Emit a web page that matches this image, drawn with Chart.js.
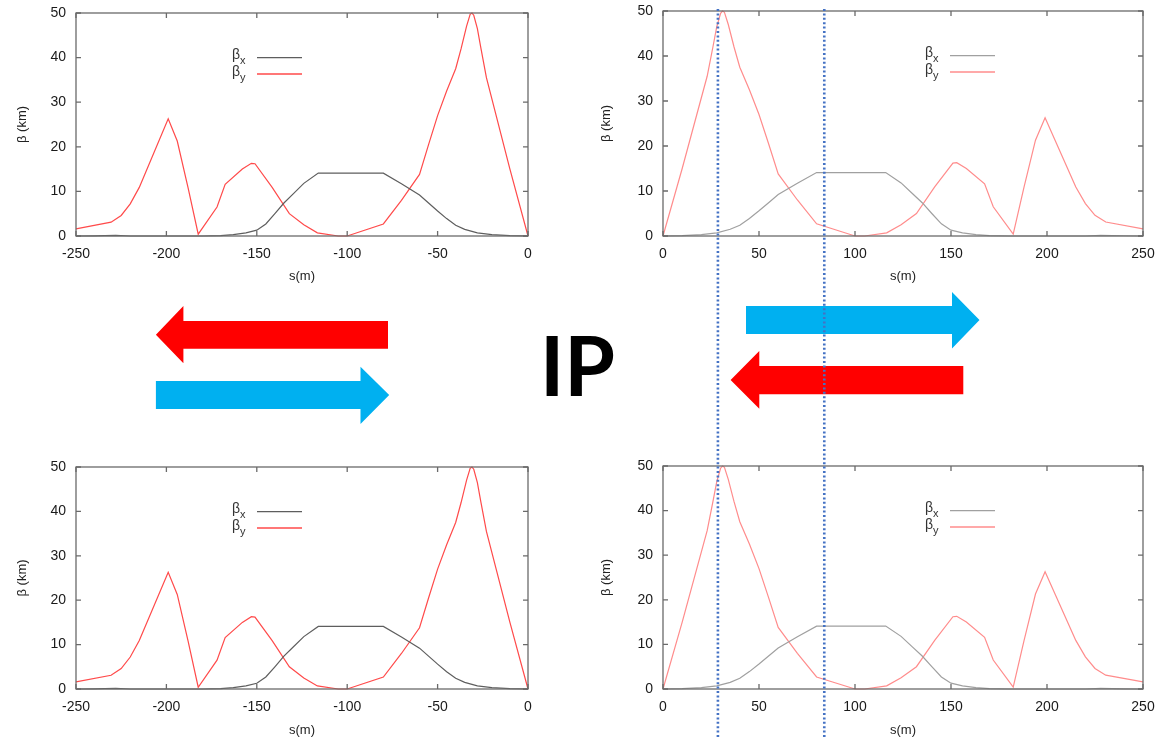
<!DOCTYPE html>
<html>
<head>
<meta charset="utf-8">
<script src="https://cdn.jsdelivr.net/npm/chart.js@4.4.1/dist/chart.umd.min.js"></script>
<style>
html, body { margin: 0; padding: 0; background: #fff; }
#page { position: relative; width: 1159px; height: 738px; overflow: hidden; background: #fff; }
#page canvas, #page svg { position: absolute; }
</style>
</head>
<body>
<div id="page">
  <svg id="arrows" width="1159" height="738" style="left:0;top:0">
    <polygon fill="#ff0000" points="155.9,334.7 183.4,306 183.4,321 388,321 388,348.7 183.4,348.7 183.4,363.3"/>
    <polygon fill="#00b0f0" points="155.9,381 360.5,381 360.5,366.7 389.2,395 360.5,424 360.5,409 155.9,409"/>
    <polygon fill="#00b0f0" points="746,306 952,306 952,292 979.5,320 952,348.5 952,334 746,334"/>
    <polygon fill="#ff0000" points="730.6,380 759.3,351 759.3,366 963.3,366 963.3,394.3 759.3,394.3 759.3,408.7"/>
    <text x="540" y="396" font-family="Lato" font-weight="700" font-size="82" fill="#000">IP</text>
  </svg>
  <canvas id="tl" width="560" height="290" style="left:0;top:0"></canvas>
  <canvas id="tr" width="559" height="290" style="left:600px;top:0"></canvas>
  <canvas id="bl" width="560" height="288" style="left:0;top:450px"></canvas>
  <canvas id="br" width="559" height="288" style="left:600px;top:450px"></canvas>
  <svg id="markers" width="1159" height="738" style="left:0;top:0"></svg>
</div>
<script>
// beta functions (s >= 0); the left panels are the mirror image
const sBetaX = [0, 10, 20, 28, 35, 40, 45, 50, 55, 60, 70, 80, 116, 124, 130, 135, 140, 145, 150, 156, 163, 170, 180, 220, 228, 240, 250];
const betaX  = [0, 0.1, 0.3, 0.7, 1.5, 2.4, 3.9, 5.6, 7.4, 9.2, 11.7, 14.1, 14.1, 11.8, 9.4, 7.4, 5.0, 2.7, 1.3, 0.7, 0.3, 0.1, 0, 0, 0.15, 0.05, 0];

const sBetaY = [0, 10, 23, 26, 28, 30, 31, 32, 34, 37, 40, 45, 50, 55, 60, 70, 80, 100, 105, 116.5, 124, 132, 141.5, 151, 153, 158, 167.5, 172, 182.4, 188, 194, 199, 215, 220, 225, 230.6, 250];
const betaY  = [0, 15, 35.5, 42, 46.5, 49.5, 50, 49.7, 47, 42, 37.5, 32.5, 27, 20.5, 13.8, 8, 2.7, 0, 0, 0.7, 2.5, 5, 10.9, 16.2, 16.3, 15, 11.6, 6.5, 0.4, 10.8, 21.3, 26.3, 10.9, 7.2, 4.6, 3.1, 1.6];

const seriesNames = ['x', 'y'];           // subscripts of beta in the key
const xTicksRight = [0, 50, 100, 150, 200, 250];
const xTicksLeft = [-250, -200, -150, -100, -50, 0];
const yTicks = [0, 10, 20, 30, 40, 50];
const markerS = [28.6, 84];               // dotted verticals, in s(m) of the right panels

const leftColors = ['#5e5e5e', '#ff4a4a'];
const rightColors = ['#a0a0a0', '#ff8c8c'];

const FONT = '"Liberation Sans", Arial, sans-serif';

// gnuplot style box with inward ticks on all four sides
const frame = {
    id: 'frame',
    afterDatasetsDraw(chart) {
        const { ctx, chartArea: a, scales: { x, y } } = chart;
        ctx.save();
        ctx.strokeStyle = '#6a6a6a';
        ctx.lineWidth = 1.3;
        ctx.strokeRect(a.left, a.top, a.right - a.left, a.bottom - a.top);
        ctx.beginPath();
        x.ticks.forEach(t => {
            const px = x.getPixelForValue(t.value);
            ctx.moveTo(px, a.bottom); ctx.lineTo(px, a.bottom - 5);
            ctx.moveTo(px, a.top); ctx.lineTo(px, a.top + 5);
        });
        y.ticks.forEach(t => {
            const py = y.getPixelForValue(t.value);
            ctx.moveTo(a.left, py); ctx.lineTo(a.left + 5, py);
            ctx.moveTo(a.right, py); ctx.lineTo(a.right - 5, py);
        });
        ctx.stroke();
        ctx.restore();
    }
};

// key with subscripted beta, drawn inside the plot
const betaLegend = {
    id: 'betaLegend',
    afterDatasetsDraw(chart, args, opts) {
        const { ctx, chartArea: a } = chart;
        ctx.save();
        chart.data.datasets.forEach((ds, i) => {
            const y = a.top + 44.7 + i * 16.3;
            const x = a.left + opts.dx;
            ctx.fillStyle = '#333';
            ctx.textBaseline = 'alphabetic';
            ctx.font = '14px ' + FONT;
            ctx.fillText('β', x, y + 1.5);
            const w = ctx.measureText('β').width;
            ctx.font = '11px ' + FONT;
            ctx.fillText(ds.label, x + w, y + 6.5);
            ctx.strokeStyle = ds.borderColor;
            ctx.lineWidth = 1.3;
            ctx.beginPath();
            ctx.moveTo(x + 25, y);
            ctx.lineTo(x + 70, y);
            ctx.stroke();
        });
        ctx.restore();
    }
};

function makePanel(id, side, box) {
    const mirror = side === 'left';
    const pts = (sArr, vArr) => {
        const p = sArr.map((s, i) => ({ x: mirror ? -s : s, y: vArr[i] }));
        return mirror ? p.reverse() : p;
    };
    const colors = mirror ? leftColors : rightColors;
    const xt = mirror ? xTicksLeft : xTicksRight;
    const series = [betaX, betaY];
    const sPos = [sBetaX, sBetaY];

    return new Chart(document.getElementById(id), {
        type: 'line',
        data: {
            datasets: series.map((vals, i) => ({
                label: seriesNames[i],
                data: pts(sPos[i], vals),
                borderColor: colors[i],
                borderWidth: 1.2,
                pointRadius: 0,
                tension: 0,
                fill: false,
                clip: 3
            }))
        },
        options: {
            responsive: false,
            animation: false,
            events: [],
            layout: { padding: { top: box.top, right: box.right, left: 0, bottom: 0 } },
            plugins: {
                legend: { display: false },
                tooltip: { enabled: false },
                betaLegend: { dx: box.legendX }
            },
            scales: {
                x: {
                    type: 'linear',
                    min: xt[0],
                    max: xt[xt.length - 1],
                    afterBuildTicks: s => { s.ticks = xt.map(v => ({ value: v })); },
                    afterFit: s => { s.height = box.axisH; s.paddingLeft = 0; s.paddingRight = 0; },
                    grid: { display: false, drawTicks: false },
                    border: { display: false },
                    ticks: { autoSkip: false, maxRotation: 0, padding: 10, color: '#1a1a1a', font: { family: FONT, size: 14 } },
                    title: {
                        display: true, text: 's(m)', color: '#222',
                        font: { family: FONT, size: 13 },
                        padding: { top: 0, bottom: box.titleBottom }
                    }
                },
                y: {
                    type: 'linear',
                    min: yTicks[0],
                    max: yTicks[yTicks.length - 1],
                    afterBuildTicks: s => { s.ticks = yTicks.map(v => ({ value: v })); },
                    afterFit: s => { s.width = box.axisW; s.paddingTop = 0; s.paddingBottom = 0; },
                    grid: { display: false, drawTicks: false },
                    border: { display: false },
                    ticks: { padding: 10, color: '#1a1a1a', font: { family: FONT, size: 14 } },
                    title: {
                        display: true, text: 'β (km)', color: '#222',
                        font: { family: FONT, size: 13, lineHeight: 1 },
                        padding: { top: box.titleLeft, bottom: 0 }
                    }
                }
            }
        },
        plugins: [frame, betaLegend]
    });
}

makePanel('tl', 'left', { top: 13, right: 32, axisW: 76, axisH: 54, titleBottom: 6, titleLeft: 15.5, legendX: 156 });
const chartTR = makePanel('tr', 'right', { top: 11, right: 16, axisW: 63, axisH: 54, titleBottom: 6, titleLeft: 0, legendX: 262 });
makePanel('bl', 'left', { top: 17, right: 32, axisW: 76, axisH: 49, titleBottom: 0, titleLeft: 15.5, legendX: 156 });
makePanel('br', 'right', { top: 16, right: 16, axisW: 63, axisH: 49, titleBottom: 0, titleLeft: 0, legendX: 262 });

// dotted verticals running down through both right panels
const svg = document.getElementById('markers');
const trLeft = document.getElementById('tr').offsetLeft;
markerS.forEach(s => {
    const px = trLeft + chartTR.scales.x.getPixelForValue(s);
    const line = document.createElementNS('http://www.w3.org/2000/svg', 'line');
    line.setAttribute('x1', px);
    line.setAttribute('x2', px);
    line.setAttribute('y1', chartTR.chartArea.top - 2);
    line.setAttribute('y2', 738);
    line.setAttribute('stroke', '#4472c4');
    line.setAttribute('stroke-width', 2.6);
    line.setAttribute('stroke-dasharray', '2 2.4');
    svg.appendChild(line);
});
</script>
</body>
</html>
